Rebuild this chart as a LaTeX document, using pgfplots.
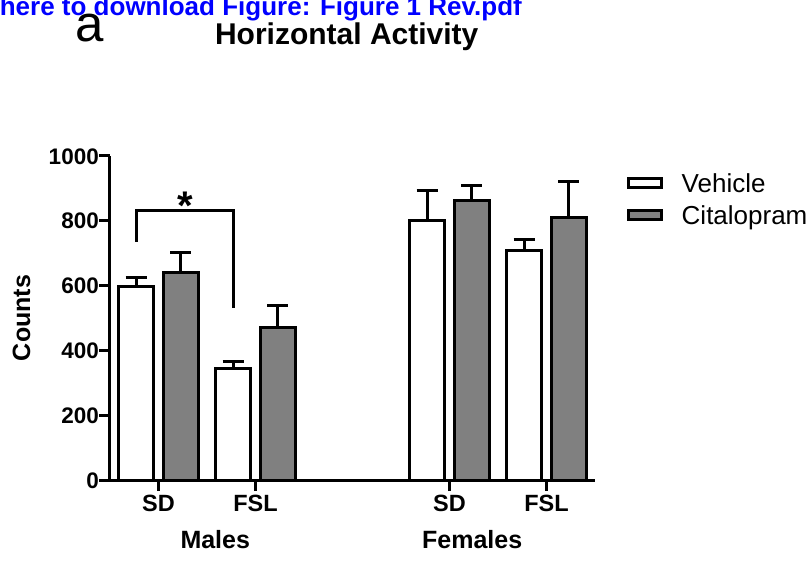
\documentclass[border=0pt]{standalone}
\usepackage{pgfplots}
\usepackage{pgfplotstable}
\pgfplotsset{compat=1.18}
\usepackage{fontspec}
\setmainfont{Liberation Sans}

\definecolor{barGray}{RGB}{128,128,128}
\definecolor{linkBlue}{RGB}{0,0,255}

% horizontal activity counts (mean, SEM); x: 0/1 = male SD/FSL, 3/4 = female SD/FSL
\pgfplotstableread{
x veh vehErr cit citErr
0 597 29  641 62
1 343 24  472 67
3 800 92  864 44
4 709 32  810 110
}\activity

\begin{document}
\begin{tikzpicture}
\path[use as bounding box] (0,0) rectangle (811pt,560pt);

\begin{axis}[
  at={(110pt,80pt)}, anchor=south west,
  scale only axis, width=485pt, height=324pt,
  xmin=-0.5, xmax=4.5, ymin=0, ymax=1000,
  axis x line=bottom, axis y line=left,
  axis line style={-, line width=3pt, black},
  tick style={line width=3pt, black},
  major tick length=11pt, tick align=outside,
  xtick={0,1,3,4}, xticklabels={SD,FSL,SD,FSL},
  ytick={0,200,...,1000}, minor tick num=0,
  /pgf/number format/assume math mode=true,
  /pgf/number format/1000 sep={},
  yticklabel style={font=\fontsize{22.5}{27}\selectfont\bfseries, inner sep=0pt, text height=16.1pt, text depth=0pt},
  xticklabel style={font=\fontsize{23.5}{28}\selectfont\bfseries, inner sep=0pt, text height=16.8pt, text depth=0pt, yshift=-3pt},
  clip=false,
  legend style={at={(axis description cs:1.0654,0.946)}, anchor=north west,
    draw=none, fill=none, inner sep=0pt, outer sep=0pt, row sep=13.4pt,
    font=\fontsize{26}{31}\selectfont,
    nodes={inner sep=0pt, anchor=west, text height=18.6pt, text depth=0pt},
    /tikz/every odd column/.style={column sep=18.4pt}},
  legend cell align=left,
  legend image code/.code={\draw[#1, line width=3pt] (0pt,-4.3pt) rectangle (33.6pt,4.3pt);},
]

\addplot[ybar, bar width=0.355, bar shift=0pt, fill=white, draw=black, line width=3pt,
  error bars/.cd, y dir=plus, y explicit,
  error bar style={line width=3pt, black},
  error mark options={line width=3pt, mark size=10.5pt, black, rotate=90}]
  table[x expr=\thisrow{x}-0.23, y=veh, y error=vehErr] {\activity};
\addlegendentry{Vehicle}

\addplot[ybar, bar width=0.355, bar shift=0pt, fill=barGray, draw=black, line width=3pt,
  error bars/.cd, y dir=plus, y explicit,
  error bar style={line width=3pt, black},
  error mark options={line width=3pt, mark size=10.5pt, black, rotate=90}]
  table[x expr=\thisrow{x}+0.23, y=cit, y error=citErr] {\activity};
\addlegendentry{Citalopram}

% significance bracket between male SD and FSL vehicle groups
\addplot[black, line width=3pt, mark=none, forget plot]
  coordinates {(-0.23,735) (-0.23,831) (0.77,831) (0.77,532)};
\node[anchor=base, inner sep=0pt, font=\fontsize{40}{48}\selectfont\bfseries] at (axis cs:0.28,804) {*};

\node[anchor=base, inner sep=0pt, yshift=-68pt, font=\fontsize{25}{30}\selectfont\bfseries] at (axis cs:0.585,0) {Males};
\node[anchor=base, inner sep=0pt, yshift=-68pt, font=\fontsize{25}{30}\selectfont\bfseries] at (axis cs:3.234,0) {Females};
\end{axis}

\node[rotate=90, anchor=base, inner sep=0pt, font=\fontsize{25}{30}\selectfont\bfseries] at (30pt,242pt) {Counts};
\node[anchor=base, inner sep=0pt, font=\fontsize{30}{36}\selectfont\bfseries] at (346.7pt,515pt) {Horizontal Activity};
\node[anchor=base west, inner sep=0pt, font=\fontsize{51}{60}\selectfont] at (75pt,518.3pt) {a};
\node[anchor=base east, inner sep=0pt, text=linkBlue, font=\fontsize{26}{31}\selectfont\bfseries] at (522pt,544.5pt) {here to download Figure: Figure 1 Rev.pdf};
\end{tikzpicture}
\end{document}
